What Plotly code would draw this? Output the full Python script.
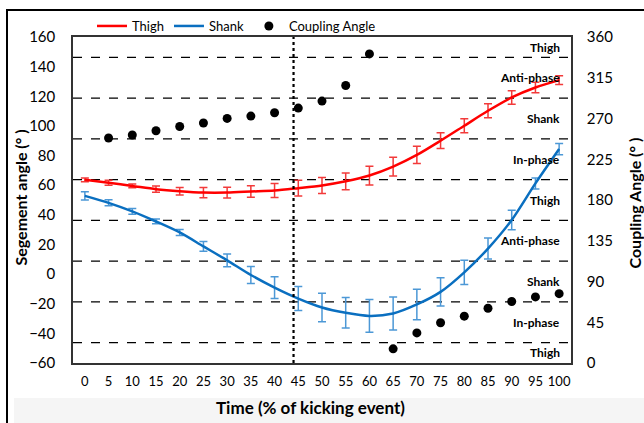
import plotly.graph_objects as go

time_pct = [0, 5, 10, 15, 20, 25, 30, 35, 40, 45, 50, 55, 60, 65, 70, 75, 80, 85, 90, 95, 100]
thigh = [63.6, 61.6, 59.5, 57.3, 55.9, 55.0, 55.0, 55.7, 56.4, 58.0, 59.8, 62.6, 66.5, 72.5, 80.4, 90.0, 100.1, 110.2, 119.2, 125.9, 130.9]
thigh_sd = [1.3, 1.7, 1.3, 2.1, 2.6, 3.4, 3.6, 3.9, 4.7, 5.3, 5.4, 5.7, 6.3, 6.3, 5.8, 5.3, 4.8, 4.7, 4.5, 3.6, 3.0]
shank = [52.8, 48.1, 42.3, 35.5, 28.1, 18.7, 9.3, -0.6, -9.1, -16.5, -22.5, -26.1, -28.2, -26.6, -20.5, -12.0, 1.2, 17.2, 36.5, 61.2, 84.4]
shank_sd = [2.8, 2.0, 2.0, 1.6, 2.0, 3.3, 4.3, 5.8, 7.3, 8.1, 9.6, 10.3, 11.0, 11.2, 10.3, 9.5, 8.2, 7.1, 6.5, 3.7, 3.8]
coupling_time = [5, 10, 15, 20, 25, 30, 35, 40, 45, 50, 55, 60, 65, 70, 75, 80, 85, 90, 95, 100]
coupling = [248.5, 251.8, 256.5, 261.2, 265.0, 270.1, 272.7, 276.3, 281.5, 289.2, 306.4, 341.3, 15.6, 33.2, 44.4, 51.7, 60.4, 67.9, 73.0, 76.6]
phase_bounds = [22.5, 67.5, 112.5, 157.5, 202.5, 247.5, 292.5, 337.5]
phase_labels = ["Thigh", "In-phase", "Shank", "Anti-phase", "Thigh", "In-phase", "Shank", "Anti-phase", "Thigh"]
phase_label_pos = [11.25, 45, 90, 135, 180, 225, 270, 315, 348.75]
event_time = 44
x_ticks = list(range(0, 101, 5))
y_ticks = list(range(-60, 161, 20))
y2_ticks = list(range(0, 361, 45))

W, H = 644, 423
L, R, T, B = 73, 571, 36, 363
pw, ph = R - L, B - T
def px(x):
    return (x - L) / pw
def py(y):
    return (B - y) / ph

FONT = "Lato"
RED = "#ff0000"
RED_ERR = "#f23a3a"
BLUE = "#0a6fc0"
BLUE_ERR = "#4c98d6"

fig = go.Figure()
fig.add_trace(go.Scatter(
    x=time_pct, y=thigh, name="Thigh", mode="lines",
    line=dict(color=RED, width=2.5, shape="spline", smoothing=0.8),
    error_y=dict(type="data", array=thigh_sd, visible=True, color=RED_ERR, thickness=1.5, width=4),
))
fig.add_trace(go.Scatter(
    x=time_pct, y=shank, name="Shank", mode="lines",
    line=dict(color=BLUE, width=2.5, shape="spline", smoothing=0.8),
    error_y=dict(type="data", array=shank_sd, visible=True, color=BLUE_ERR, thickness=1.5, width=4),
))
fig.add_trace(go.Scatter(
    x=coupling_time, y=coupling, name="Coupling Angle", mode="markers", yaxis="y2",
    marker=dict(color="black", size=9),
))

shapes = []
for b in phase_bounds:
    shapes.append(dict(type="line", xref="paper", x0=0, x1=1, yref="y2", y0=b, y1=b,
                       line=dict(color="black", width=1.2, dash="dash"), layer="below"))
shapes.append(dict(type="line", xref="x", x0=event_time, x1=event_time, yref="paper", y0=0, y1=1,
                   line=dict(color="black", width=2.2, dash="dot")))
# light grey footer area and outer frame
shapes.append(dict(type="rect", xref="paper", yref="paper", x0=px(14), x1=px(W + 5), y0=py(H + 5), y1=py(398),
                   fillcolor="#f5f5f5", line=dict(width=0), layer="below"))
shapes.append(dict(type="line", xref="paper", yref="paper", x0=px(7), x1=px(7), y0=py(8), y1=py(H + 5),
                   line=dict(color="black", width=2)))
shapes.append(dict(type="line", xref="paper", yref="paper", x0=px(7), x1=px(W + 5), y0=py(9), y1=py(9),
                   line=dict(color="black", width=2)))

annotations = []
for lab, pos in zip(phase_labels, phase_label_pos):
    annotations.append(dict(x=px(562), xref="paper", y=pos, yref="y2", text=f"<b>{lab}</b>",
                            showarrow=False, xanchor="right", yanchor="middle",
                            font=dict(family=FONT, size=12, color="black")))
annotations.append(dict(x=px(21), y=py(197), xref="paper", yref="paper", text="<b>Segement angle (° )</b>",
                        textangle=-90, showarrow=False, xanchor="center", yanchor="middle",
                        font=dict(family=FONT, size=16, color="black")))
annotations.append(dict(x=px(634), y=py(203), xref="paper", yref="paper", text="<b>Coupling Angle (° )</b>",
                        textangle=-90, showarrow=False, xanchor="center", yanchor="middle",
                        font=dict(family=FONT, size=16, color="black")))
annotations.append(dict(x=px(310), y=py(408), xref="paper", yref="paper", text="<b>Time (% of kicking event)</b>",
                        showarrow=False, xanchor="center", yanchor="middle",
                        font=dict(family=FONT, size=17, color="black")))

fig.update_layout(
    width=W, height=H,
    margin=dict(l=L, r=W - R, t=T, b=H - B),
    paper_bgcolor="white", plot_bgcolor="white",
    font=dict(family=FONT, size=13, color="black"),
    showlegend=True,
    legend=dict(orientation="h", x=px(92), y=py(26), xanchor="left", yanchor="middle",
                font=dict(family=FONT, size=13, color="black"), itemwidth=30,
                bgcolor="rgba(0,0,0,0)", tracegroupgap=0),
    xaxis=dict(range=[-2.5, 102.5], tickmode="array", tickvals=x_ticks, showgrid=False, zeroline=False,
               showline=True, linecolor="#333", linewidth=1.5, mirror=True, ticks="",
               ticklabelstandoff=6, tickfont=dict(family=FONT, size=13)),
    yaxis=dict(range=[-60, 160], tickmode="array", tickvals=y_ticks, showgrid=False, zeroline=False,
               showline=True, linecolor="#333", linewidth=1.5, ticks="",
               ticklabelstandoff=13, tickfont=dict(family=FONT, size=15)),
    yaxis2=dict(range=[0, 360], tickmode="array", tickvals=y2_ticks, overlaying="y", side="right",
                showgrid=False, zeroline=False, showline=True, linecolor="#333", linewidth=1.5, ticks="",
                ticklabelstandoff=11, tickfont=dict(family=FONT, size=15)),
    shapes=shapes, annotations=annotations,
)
fig.write_html("out.html")
